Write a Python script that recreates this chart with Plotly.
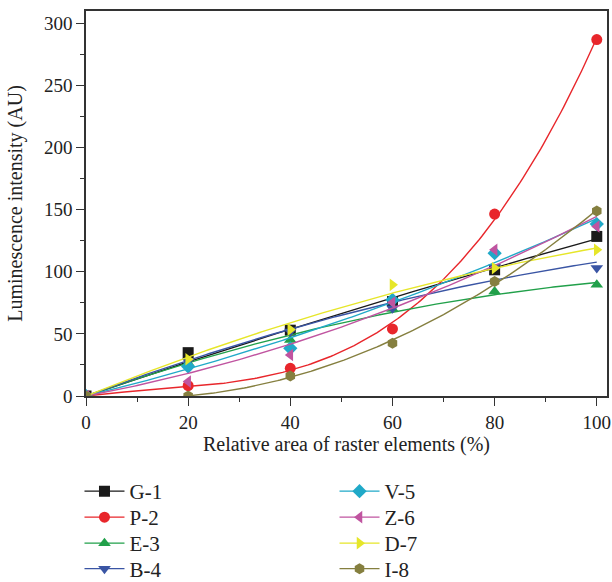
import numpy as np
import plotly.graph_objects as go

x_vals = [0, 20, 40, 60, 80, 100]
names = ["G-1", "P-2", "E-3", "B-4", "V-5", "Z-6", "D-7", "I-8"]
g1 = [0, 34.9, 53.0, 76.0, 101.6, 128.5]
p2 = [0, 8.3, 22.3, 54.0, 146.5, 287.0]
e3 = [0, 26.5, 45.0, 70.0, 84.1, 89.5]
b4 = [0, 28.0, 52.0, 70.7, 104.0, 103.0]
v5 = [0, 23.7, 38.4, 77.4, 115.0, 138.4]
z6 = [0, 11.6, 33.0, 75.3, 117.7, 136.5]
d7 = [0, 29.6, 53.5, 89.5, 103.0, 117.7]
i8 = [0, 0.0, 16.1, 42.5, 92.2, 149.0]
series = [g1, p2, e3, b4, v5, z6, d7, i8]
fit_order = [2, 3, 2, 2, 2, 2, 2, 2]
colors = ["#1a1a1a", "#e8262b", "#21a04a", "#3a55a4", "#20a9c8", "#c054a0", "#e6e629", "#857f3f"]
symbols = ["square", "circle", "triangle-up", "triangle-down", "diamond",
           "triangle-left", "triangle-right", "hexagon"]
x_ticks = [0, 20, 40, 60, 80, 100]
y_ticks = [0, 50, 100, 150, 200, 250, 300]


def origin_fit(xs, ys, deg, xq):
    """Least-squares polynomial fit constrained through the origin."""
    xs = np.asarray(xs, float)
    A = np.column_stack([xs ** k for k in range(1, deg + 1)])
    coef, *_ = np.linalg.lstsq(A, np.asarray(ys, float), rcond=None)
    return sum(c * xq ** (k + 1) for k, c in enumerate(coef))


FONT = "Liberation Serif"
fig = go.Figure()
xf = np.linspace(0, 100, 201)
for name, ys, deg, c, s in zip(names, series, fit_order, colors, symbols):
    fig.add_trace(go.Scatter(x=xf, y=origin_fit(x_vals, ys, deg, xf), mode="lines",
                             line=dict(color=c, width=1.4), showlegend=False, hoverinfo="skip"))
    fig.add_trace(go.Scatter(x=x_vals, y=ys, mode="markers",
                             marker=dict(color=c, symbol=s, size=11), showlegend=False))

# one legend per entry, arranged in two columns of four
legend_layout = {}
row_px = [491.5, 517.5, 543.5, 569.0]
for i, (name, c, s) in enumerate(zip(names, colors, symbols)):
    key = "legend" if i == 0 else f"legend{i + 1}"
    fig.add_trace(go.Scatter(x=[None], y=[None], mode="lines+markers", name=name,
                             legend=key,
                             line=dict(color=c, width=1.4),
                             marker=dict(color=c, symbol=s, size=11)))
    col = i // 4
    row = i % 4
    legend_layout[key] = dict(
        x=-0.0125 if col == 0 else 0.477,
        y=(396 - row_px[row]) / 385,
        xanchor="left", yanchor="middle", orientation="v", itemwidth=40,
        font=dict(family=FONT, size=21, color="#222"), bgcolor="rgba(0,0,0,0)")

axis_common = dict(showline=True, linecolor="#333333", linewidth=1.5, mirror=True,
                   ticks="outside", ticklen=8, tickcolor="#333333", showgrid=False,
                   zeroline=False, automargin=False,
                   tickfont=dict(family=FONT, size=19, color="#222"))
fig.update_xaxes(range=[0, 102], tickvals=x_ticks,
                 minor=dict(dtick=10, tick0=0, ticks="outside", ticklen=4, tickcolor="#333333"),
                 title=dict(text="Relative area of raster elements (%)",
                            font=dict(family=FONT, size=20, color="#222"), standoff=5),
                 **axis_common)
fig.update_yaxes(range=[0, 310], tickvals=y_ticks,
                 minor=dict(dtick=25, tick0=0, ticks="outside", ticklen=4, tickcolor="#333333"),
                 title=dict(text="Luminescence intensity (AU)",
                            font=dict(family=FONT, size=20, color="#222"), standoff=16),
                 **axis_common)
fig.update_layout(
    width=612, height=582,
    margin=dict(l=86, r=5, t=11, b=186, autoexpand=False),
    paper_bgcolor="white", plot_bgcolor="white",
    font=dict(family=FONT, color="#222"),
    **legend_layout,
)
fig.write_html("out.html", config={"displayModeBar": False},
               post_script="document.body.style.margin='0';document.body.style.overflow='hidden';")
